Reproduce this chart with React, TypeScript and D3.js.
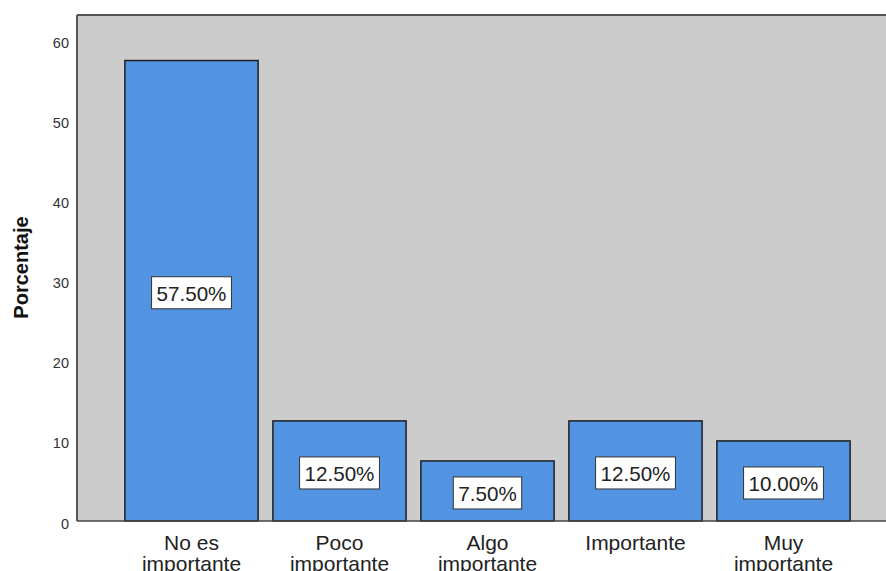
import React from "react";
import * as d3 from "d3";

const categories: string[][] = [
  ["No es", "importante"],
  ["Poco", "importante"],
  ["Algo", "importante"],
  ["Importante"],
  ["Muy", "importante"],
];
const values: number[] = [57.5, 12.5, 7.5, 12.5, 10.0];
const valueLabels: string[] = ["57.50%", "12.50%", "7.50%", "12.50%", "10.00%"];
const yTicks: number[] = [0, 10, 20, 30, 40, 50, 60];
const yTitle = "Porcentaje";

const W = 886;
const H = 571;
const plotLeft = 77;
const plotTop = 15;
const plotRight = 886;
const plotBottom = 521;

function textWidth(s: string, size: number): number {
  let w = 0;
  for (const c of s) {
    if (c === ".") w += 0.278;
    else if (c === "%") w += 0.889;
    else w += 0.556;
  }
  return w * size;
}

export default function App() {
  const y = d3.scaleLinear().domain([0, 60]).range([plotBottom, 40.5]);
  const x = d3
    .scaleBand<number>()
    .domain(values.map((_, i) => i))
    .range([117.5, 857.5])
    .paddingInner(0.1)
    .paddingOuter(0.05);
  const font = "'Liberation Sans', Arial, sans-serif";
  const valSize = 20.6;

  return (
    <svg
      width={W}
      height={H}
      style={{ position: "absolute", left: 0, top: 0, background: "#fff" }}
    >
      <rect
        x={plotLeft}
        y={plotTop}
        width={plotRight - plotLeft}
        height={plotBottom - plotTop}
        fill="#cccccc"
      />
      <line x1={plotLeft} y1={plotTop} x2={plotRight} y2={plotTop} stroke="#555" strokeWidth={2} />
      <line x1={plotLeft} y1={plotTop} x2={plotLeft} y2={plotBottom} stroke="#555" strokeWidth={2} />
      {values.map((v, i) => {
        const bx = x(i)!;
        const bw = x.bandwidth();
        const top = y(v);
        const mid = (top + y(0)) / 2 + 2;
        const lw = textWidth(valueLabels[i], valSize) + 10;
        return (
          <g key={i}>
            <rect
              x={bx}
              y={top}
              width={bw}
              height={y(0) - top}
              fill="#5294e2"
              stroke="#1f1f1f"
              strokeWidth={1.5}
            />
            <rect
              x={bx + bw / 2 - lw / 2}
              y={mid - 16}
              width={lw}
              height={32}
              fill="#fff"
              stroke="#333"
              strokeWidth={1}
            />
            <text
              x={bx + bw / 2}
              y={mid + 8.2}
              textAnchor="middle"
              fontFamily={font}
              fontSize={valSize}
              fill="#222"
            >
              {valueLabels[i]}
            </text>
          </g>
        );
      })}
      <line x1={plotLeft} y1={plotBottom} x2={plotRight} y2={plotBottom} stroke="#444" strokeWidth={1.5} />
      {yTicks.map((t) => (
        <text
          key={t}
          x={69}
          y={y(t) + 7.5}
          textAnchor="end"
          fontFamily={font}
          fontSize={14.5}
          fill="#333"
        >
          {t}
        </text>
      ))}
      {categories.map((lines, i) => (
        <text
          key={i}
          x={x(i)! + x.bandwidth() / 2}
          textAnchor="middle"
          fontFamily={font}
          fontSize={21}
          fill="#222"
        >
          {lines.map((l, j) => (
            <tspan key={j} x={x(i)! + x.bandwidth() / 2} y={549.5 + j * 21}>
              {l}
            </tspan>
          ))}
        </text>
      ))}
      <text
        transform={`translate(28, 267.5) rotate(-90)`}
        textAnchor="middle"
        fontFamily={font}
        fontSize={20}
        fontWeight="bold"
        fill="#111"
      >
        {yTitle}
      </text>
    </svg>
  );
}
